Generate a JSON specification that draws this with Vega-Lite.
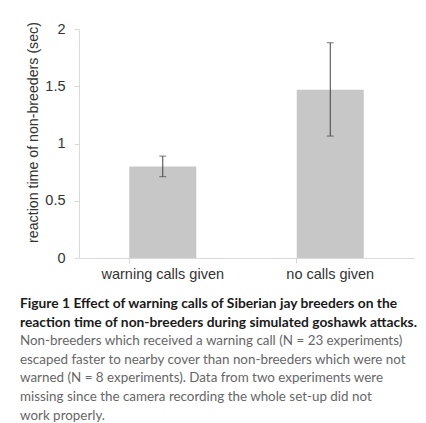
{
  "$schema": "https://vega.github.io/schema/vega-lite/v6.json",
  "autosize": "none",
  "width": 335,
  "height": 229,
  "padding": {"left": 79, "top": 29, "right": 12, "bottom": 165},
  "background": "white",
  "data": {"values": [
    {"group": "warning calls given", "mean": 0.80, "lo": 0.71, "hi": 0.89},
    {"group": "no calls given", "mean": 1.47, "lo": 1.065, "hi": 1.88}
  ]},
  "title": {
    "text": ["Figure 1 Effect of warning calls of Siberian jay breeders on the", "reaction time of non-breeders during simulated goshawk attacks."],
    "subtitle": ["Non-breeders which received a warning call (N = 23 experiments)", "escaped faster to nearby cover than non-breeders which were not", "warned (N = 8 experiments). Data from two experiments were", "missing since the camera recording the whole set-up did not", "work properly."],
    "orient": "bottom",
    "anchor": "start",
    "frame": "group",
    "dx": -59,
    "offset": 16,
    "font": "Lato",
    "fontSize": 13.8,
    "fontWeight": "bold",
    "color": "#1a1a1a",
    "lineHeight": 19.5,
    "subtitleFont": "Lato",
    "subtitleFontSize": 13.4,
    "subtitleColor": "#666666",
    "subtitleLineHeight": 18.8,
    "subtitlePadding": 4
  },
  "encoding": {
    "x": {
      "field": "group", "type": "nominal", "sort": null,
      "scale": {"paddingInner": 0.6, "paddingOuter": 0.3},
      "axis": {
        "title": null, "labelAngle": 0, "bandPosition": 0,
        "domainColor": "#d9d9d9", "tickColor": "#d9d9d9", "tickSize": 5,
        "labelFont": "Liberation Sans", "labelFontSize": 14.5, "labelColor": "#333333",
        "labelPadding": 4
      }
    }
  },
  "layer": [
    {
      "mark": {"type": "bar", "color": "#c6c7c6"},
      "encoding": {
        "y": {
          "field": "mean", "type": "quantitative",
          "scale": {"domain": [0, 2], "nice": false},
          "axis": {
            "values": [0, 0.5, 1, 1.5, 2],
            "format": "~g",
            "grid": false,
            "title": "reaction time of non-breeders (sec)",
            "titleFont": "Liberation Sans", "titleFontSize": 14.2, "titleFontWeight": "normal",
            "titleColor": "#333333",
            "titleX": -42, "titleY": 103, "titleBaseline": "alphabetic",
            "domainColor": "#d9d9d9", "tickColor": "#d9d9d9", "tickSize": 5,
            "labelFont": "Liberation Sans", "labelFontSize": 14.5, "labelColor": "#333333",
            "labelPadding": 9
          }
        }
      }
    },
    {
      "mark": {"type": "rule", "color": "#404040", "strokeWidth": 1},
      "encoding": {
        "y": {"field": "lo", "type": "quantitative"},
        "y2": {"field": "hi"}
      }
    },
    {
      "mark": {"type": "tick", "color": "#404040", "thickness": 1, "size": 7},
      "encoding": {"y": {"field": "lo", "type": "quantitative"}}
    },
    {
      "mark": {"type": "tick", "color": "#404040", "thickness": 1, "size": 7},
      "encoding": {"y": {"field": "hi", "type": "quantitative"}}
    }
  ],
  "config": {"view": {"stroke": null}}
}
